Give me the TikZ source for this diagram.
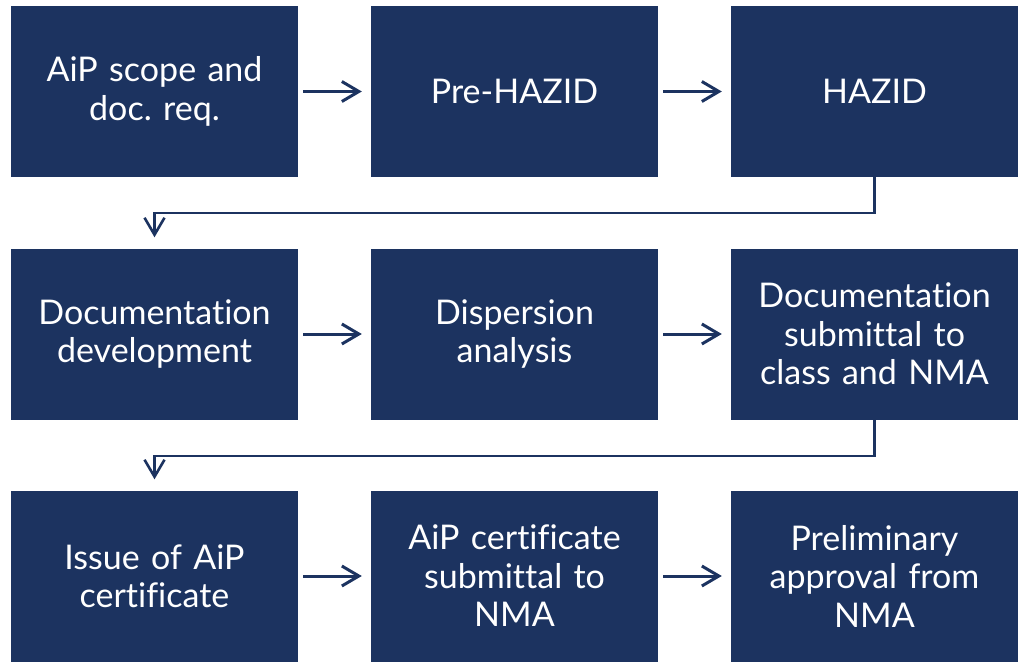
\documentclass[tikz,border=0pt]{standalone}
\usepackage{fontspec}
\setmainfont{Lato}[Ligatures=NoCommon]
\usetikzlibrary{arrows.meta}
\definecolor{boxblue}{RGB}{28,51,96}
\frenchspacing
\begin{document}
\begin{tikzpicture}[x=1pt,y=-1pt,
  stepbox/.style={fill=boxblue, draw=none, minimum width=287pt, minimum height=171pt,
    inner sep=0pt, text=white, align=center, font=\fontsize{34}{38.5}\selectfont, text width=284pt},
  flow/.style={draw=boxblue, line width=3pt, -{Straight Barb[length=17pt,width=20pt,line width=3pt]}},
  elbow/.style={draw=boxblue, line width=2.2pt, -{Straight Barb[length=17pt,width=20pt,line width=2.6pt]}}
]
\useasboundingbox (0,0) rectangle (1025,663);
\node[stepbox] (a) at (154.5,91.5) {AiP scope and\\doc. req.};
\node[stepbox] (b) at (514.5,91.5) {Pre-HAZID};
\node[stepbox] (c) at (874.5,91.5) {HAZID};
\node[stepbox] (d) at (154.5,334) {Documentation\\development};
\node[stepbox] (e) at (514.5,334) {Dispersion\\analysis};
\node[stepbox] (f) at (874.5,334) {Documentation\\submittal to\\class and NMA};
\node[stepbox] (g) at (154.5,576) {Issue of AiP\\certificate};
\node[stepbox] (h) at (514.5,576) {AiP certificate\\submittal to\\NMA};
\node[stepbox] (i) at (874.5,576) {Preliminary\\approval from\\NMA};
\draw[flow,shorten <=5pt,shorten >=9pt] (a) -- (b);
\draw[flow,shorten <=5pt,shorten >=9pt] (b) -- (c);
\draw[flow,shorten <=5pt,shorten >=9pt] (d) -- (e);
\draw[flow,shorten <=5pt,shorten >=9pt] (e) -- (f);
\draw[flow,shorten <=5pt,shorten >=9pt] (g) -- (h);
\draw[flow,shorten <=5pt,shorten >=9pt] (h) -- (i);
\draw[elbow,shorten >=11pt] (c.south) -- ++(0,36) -| (d.north);
\draw[elbow,shorten >=11pt] (f.south) -- ++(0,36) -| (g.north);
\end{tikzpicture}
\end{document}
